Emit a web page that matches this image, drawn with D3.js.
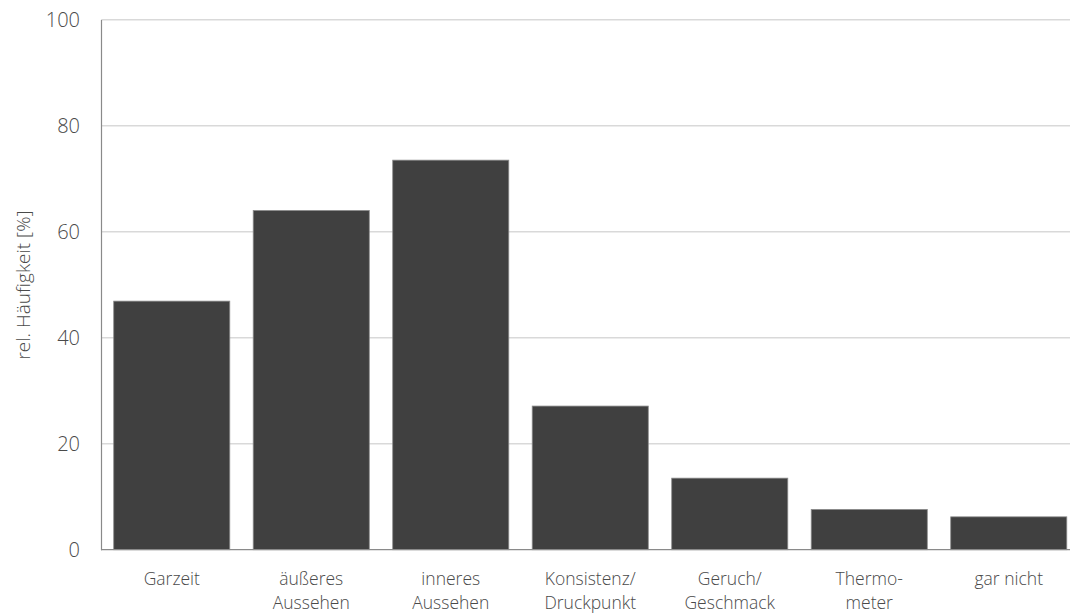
<!DOCTYPE html>
<html><head><meta charset="utf-8">
<script src="https://cdn.jsdelivr.net/npm/d3@7"></script>
<style>body{margin:0;background:#fff}svg{display:block}text{font-family:"Open Sans",sans-serif;font-weight:400;fill:#4a4a4a}</style>
</head><body><svg id="c" width="1070" height="614"></svg>
<script>
const categories = [["Garzeit"],["äußeres","Aussehen"],["inneres","Aussehen"],["Konsistenz/","Druckpunkt"],["Geruch/","Geschmack"],["Thermo-","meter"],["gar nicht"]];
const values = [46.9, 64.0, 73.5, 27.1, 13.5, 7.6, 6.2];
const yTicks = [0, 20, 40, 60, 80, 100];
const yTitle = "rel. Häufigkeit [%]";

const svg = d3.select("#c");
const keys = categories.map(c => c.join(" "));
const x = d3.scaleBand().domain(keys).range([102, 1078.5]).paddingInner(0.168).paddingOuter(0.084);
const y = d3.scaleLinear().domain([0, 100]).range([549.7, 19.7]);

// gridlines
svg.append("g").selectAll("line").data(yTicks.filter(t => t > 0)).join("line")
  .attr("x1", 102).attr("x2", 1070).attr("y1", d => y(d)).attr("y2", d => y(d))
  .attr("stroke", "#d9d9d9").attr("stroke-width", 1.5);

// bars
svg.append("g").selectAll("rect").data(values).join("rect")
  .attr("x", (d, i) => x(keys[i])).attr("width", x.bandwidth())
  .attr("y", d => y(d)).attr("height", d => y(0) - y(d))
  .attr("fill", "#404040").attr("stroke", "#8a8a8a").attr("stroke-width", 0.8);

// axes lines
svg.append("line").attr("x1", 101.5).attr("x2", 101.5).attr("y1", y(100)).attr("y2", y(0)+0.5)
  .attr("stroke", "#8a8a8a").attr("stroke-width", 1.2);
svg.append("line").attr("x1", 101).attr("x2", 1070).attr("y1", y(0)).attr("y2", y(0))
  .attr("stroke", "#8a8a8a").attr("stroke-width", 1.2);

// y tick labels
svg.append("g").selectAll("text").data(yTicks).join("text")
  .attr("x", 80).attr("y", d => y(d)).attr("dy", "0.35em")
  .attr("text-anchor", "end").style("font-size", "20px").style("font-weight", 300).text(d => d);

// x labels
const xl = svg.append("g").selectAll("text").data(categories).join("text")
  .attr("text-anchor", "middle").style("font-size", "17.5px").style("font-weight", 300)
  .attr("transform", (d, i) => `translate(${x(keys[i]) + x.bandwidth()/2},585)`);
xl.selectAll("tspan").data(d => d).join("tspan")
  .attr("x", 0).attr("y", (d, j) => j * 23.5).text(d => d);

// y title
svg.append("text").attr("transform", "translate(30,285) rotate(-90)")
  .attr("text-anchor", "middle").style("font-size", "19px").style("font-weight", 300).text(yTitle);
</script></body></html>
